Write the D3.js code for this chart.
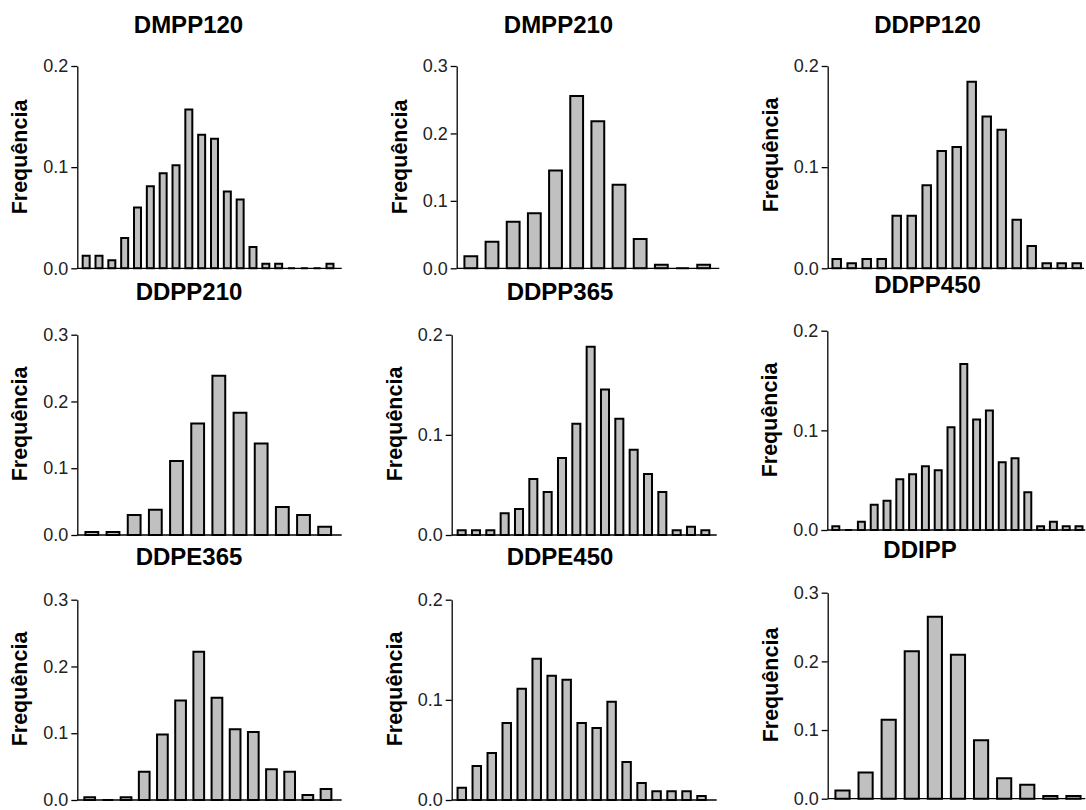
<!DOCTYPE html>
<html>
<head>
<meta charset="utf-8">
<script src="https://cdn.jsdelivr.net/npm/d3@7"></script>
<style>
  body { margin: 0; background: #fff; }
  svg { display: block; font-family: Arial, "Liberation Sans", sans-serif; }
</style>
</head>
<body>
<svg id="chart" width="1086" height="810"></svg>
<script>
// 各面板名称
const panelNames = ["DMPP120", "DMPP210", "DDPP120", "DDPP210", "DDPP365", "DDPP450", "DDPE365", "DDPE450", "DDIPP"];

// 各面板的频率
const dmpp120 = [0.0125, 0.0125, 0.008, 0.030, 0.060, 0.081, 0.094, 0.102, 0.157, 0.132, 0.128, 0.076, 0.068, 0.021, 0.0045, 0.0045, 0, 0, 0, 0.0045];
const dmpp210 = [0.018, 0.0395, 0.069, 0.0815, 0.145, 0.2555, 0.218, 0.124, 0.0435, 0.0054, 0, 0.0054];
const ddpp120 = [0.0092, 0.0049, 0.0092, 0.0092, 0.052, 0.052, 0.082, 0.116, 0.120, 0.1845, 0.150, 0.137, 0.048, 0.022, 0.0049, 0.0049, 0.0049];
const ddpp210 = [0.0045, 0.0045, 0.030, 0.038, 0.111, 0.167, 0.2386, 0.183, 0.137, 0.042, 0.030, 0.0125];
const ddpp365 = [0.0047, 0.0047, 0.0047, 0.0216, 0.026, 0.056, 0.043, 0.077, 0.111, 0.188, 0.1454, 0.116, 0.085, 0.061, 0.043, 0.0047, 0.0083, 0.0047];
const ddpp450 = [0.0037, 0, 0.0084, 0.0254, 0.0294, 0.051, 0.056, 0.064, 0.060, 0.103, 0.1666, 0.111, 0.120, 0.068, 0.072, 0.038, 0.0037, 0.0084, 0.0037, 0.0037];
const ddpe365 = [0.004, 0, 0.004, 0.0424, 0.098, 0.149, 0.222, 0.153, 0.106, 0.102, 0.046, 0.0424, 0.0075, 0.0165];
const ddpe450 = [0.0123, 0.034, 0.047, 0.077, 0.111, 0.141, 0.124, 0.120, 0.077, 0.072, 0.098, 0.038, 0.017, 0.0087, 0.0087, 0.0087, 0.004];
const ddipp = [0.0121, 0.038, 0.115, 0.2146, 0.265, 0.2097, 0.085, 0.0296, 0.0204, 0.0039, 0.0039];

const panelValues = [dmpp120, dmpp210, ddpp120, ddpp210, ddpp365, ddpp450, ddpe365, ddpe450, ddipp];

// y轴最大值与刻度
const panelYMax = [0.2, 0.3, 0.2, 0.3, 0.2, 0.2, 0.3, 0.2, 0.3];
const yLabel = "Frequência";

// 面板布局（像素）
// ax: y轴x位置, ex: x轴终点, top/bot: y范围, b0/b1: 柱区域, tx/ty: 标题, ly: y标签中心
const layout = [
    { ax: 77.3, ex: 341.7, top: 66, bot: 268.3, b0: 79.75, b1: 336.4, tx: 188.5, ty: 33, ly: 157 },
    { ax: 456.7, ex: 719.3, top: 66, bot: 268.3, b0: 460.25, b1: 714.25, tx: 558.5, ty: 33, ly: 157 },
    { ax: 827.7, ex: 1084, top: 66, bot: 268.3, b0: 829.2, b1: 1084.2, tx: 927.5, ty: 33, ly: 155 },
    { ax: 77.3, ex: 341.7, top: 334.7, bot: 535, b0: 81.25, b1: 335.25, tx: 189, ty: 300, ly: 424 },
    { ax: 451.7, ex: 716.7, top: 334.7, bot: 535, b0: 454.5, b1: 712.5, tx: 560, ty: 300, ly: 424 },
    { ax: 827.3, ex: 1085.3, top: 330.7, bot: 530, b0: 829.4, b1: 1085.4, tx: 927.5, ty: 293, ly: 420 },
    { ax: 77.3, ex: 341.7, top: 599.7, bot: 800, b0: 80.6, b1: 335.1, tx: 189, ty: 565, ly: 689 },
    { ax: 451.7, ex: 716.7, top: 599.7, bot: 800, b0: 454.3, b1: 709, tx: 560, ty: 565, ly: 689 },
    { ax: 827.7, ex: 1085.3, top: 592.7, bot: 798.7, b0: 830.95, b1: 1085, tx: 920, ty: 558, ly: 685 }
];

const svg = d3.select("#chart");

panelNames.forEach((name, i) => {
    const L = layout[i];
    const values = panelValues[i];
    const g = svg.append("g").attr("class", "panel");

    const x = d3.scaleBand()
        .domain(d3.range(values.length))
        .range([L.b0, L.b1])
        .paddingInner(0.3)
        .paddingOuter(0.15);

    const y = d3.scaleLinear()
        .domain([0, panelYMax[i]])
        .range([L.bot, L.top]);

    // 柱子 (用path画，零值也能显示为线)
    g.selectAll(".bar")
        .data(values)
        .enter()
        .append("path")
        .attr("class", "bar")
        .attr("d", (d, k) => {
            const x0 = x(k) + 1, x1 = x(k) + x.bandwidth() - 1;
            const y0 = y(0), y1 = y(d);
            return `M${x0},${y0}V${y1}H${x1}V${y0}Z`;
        })
        .style("fill", "#c0c0c0")
        .style("stroke", "#000")
        .style("stroke-width", 2);

    // x轴线
    g.append("line")
        .attr("x1", L.ax).attr("x2", L.ex)
        .attr("y1", y(0)).attr("y2", y(0))
        .style("stroke", "#000")
        .style("stroke-width", 1.3);

    // y轴
    const ticks = d3.range(0, panelYMax[i] + 1e-9, 0.1);
    const yAxis = g.append("g")
        .attr("transform", `translate(${L.ax},0)`)
        .call(d3.axisLeft(y)
            .tickValues(ticks)
            .tickSize(6)
            .tickSizeOuter(0)
            .tickPadding(3)
            .tickFormat(d3.format(".1f")));
    yAxis.select(".domain").style("stroke", "#000").style("stroke-width", 1.3);
    yAxis.selectAll(".tick line").style("stroke", "#000").style("stroke-width", 1.3);
    yAxis.selectAll(".tick text")
        .style("font-size", "18px")
        .style("font-family", "Arial, 'Liberation Sans', sans-serif")
        .style("fill", "#222");

    // y标签
    g.append("text")
        .attr("transform", `translate(${L.ax - 50},${L.ly}) rotate(-90)`)
        .attr("text-anchor", "middle")
        .style("font-size", "21.5px")
        .style("font-weight", "bold")
        .style("fill", "#000")
        .text(yLabel);

    // 标题
    g.append("text")
        .attr("x", L.tx)
        .attr("y", L.ty)
        .attr("text-anchor", "middle")
        .style("font-size", "24px")
        .style("font-weight", "bold")
        .style("fill", "#000")
        .text(name);
});
</script>
</body>
</html>
